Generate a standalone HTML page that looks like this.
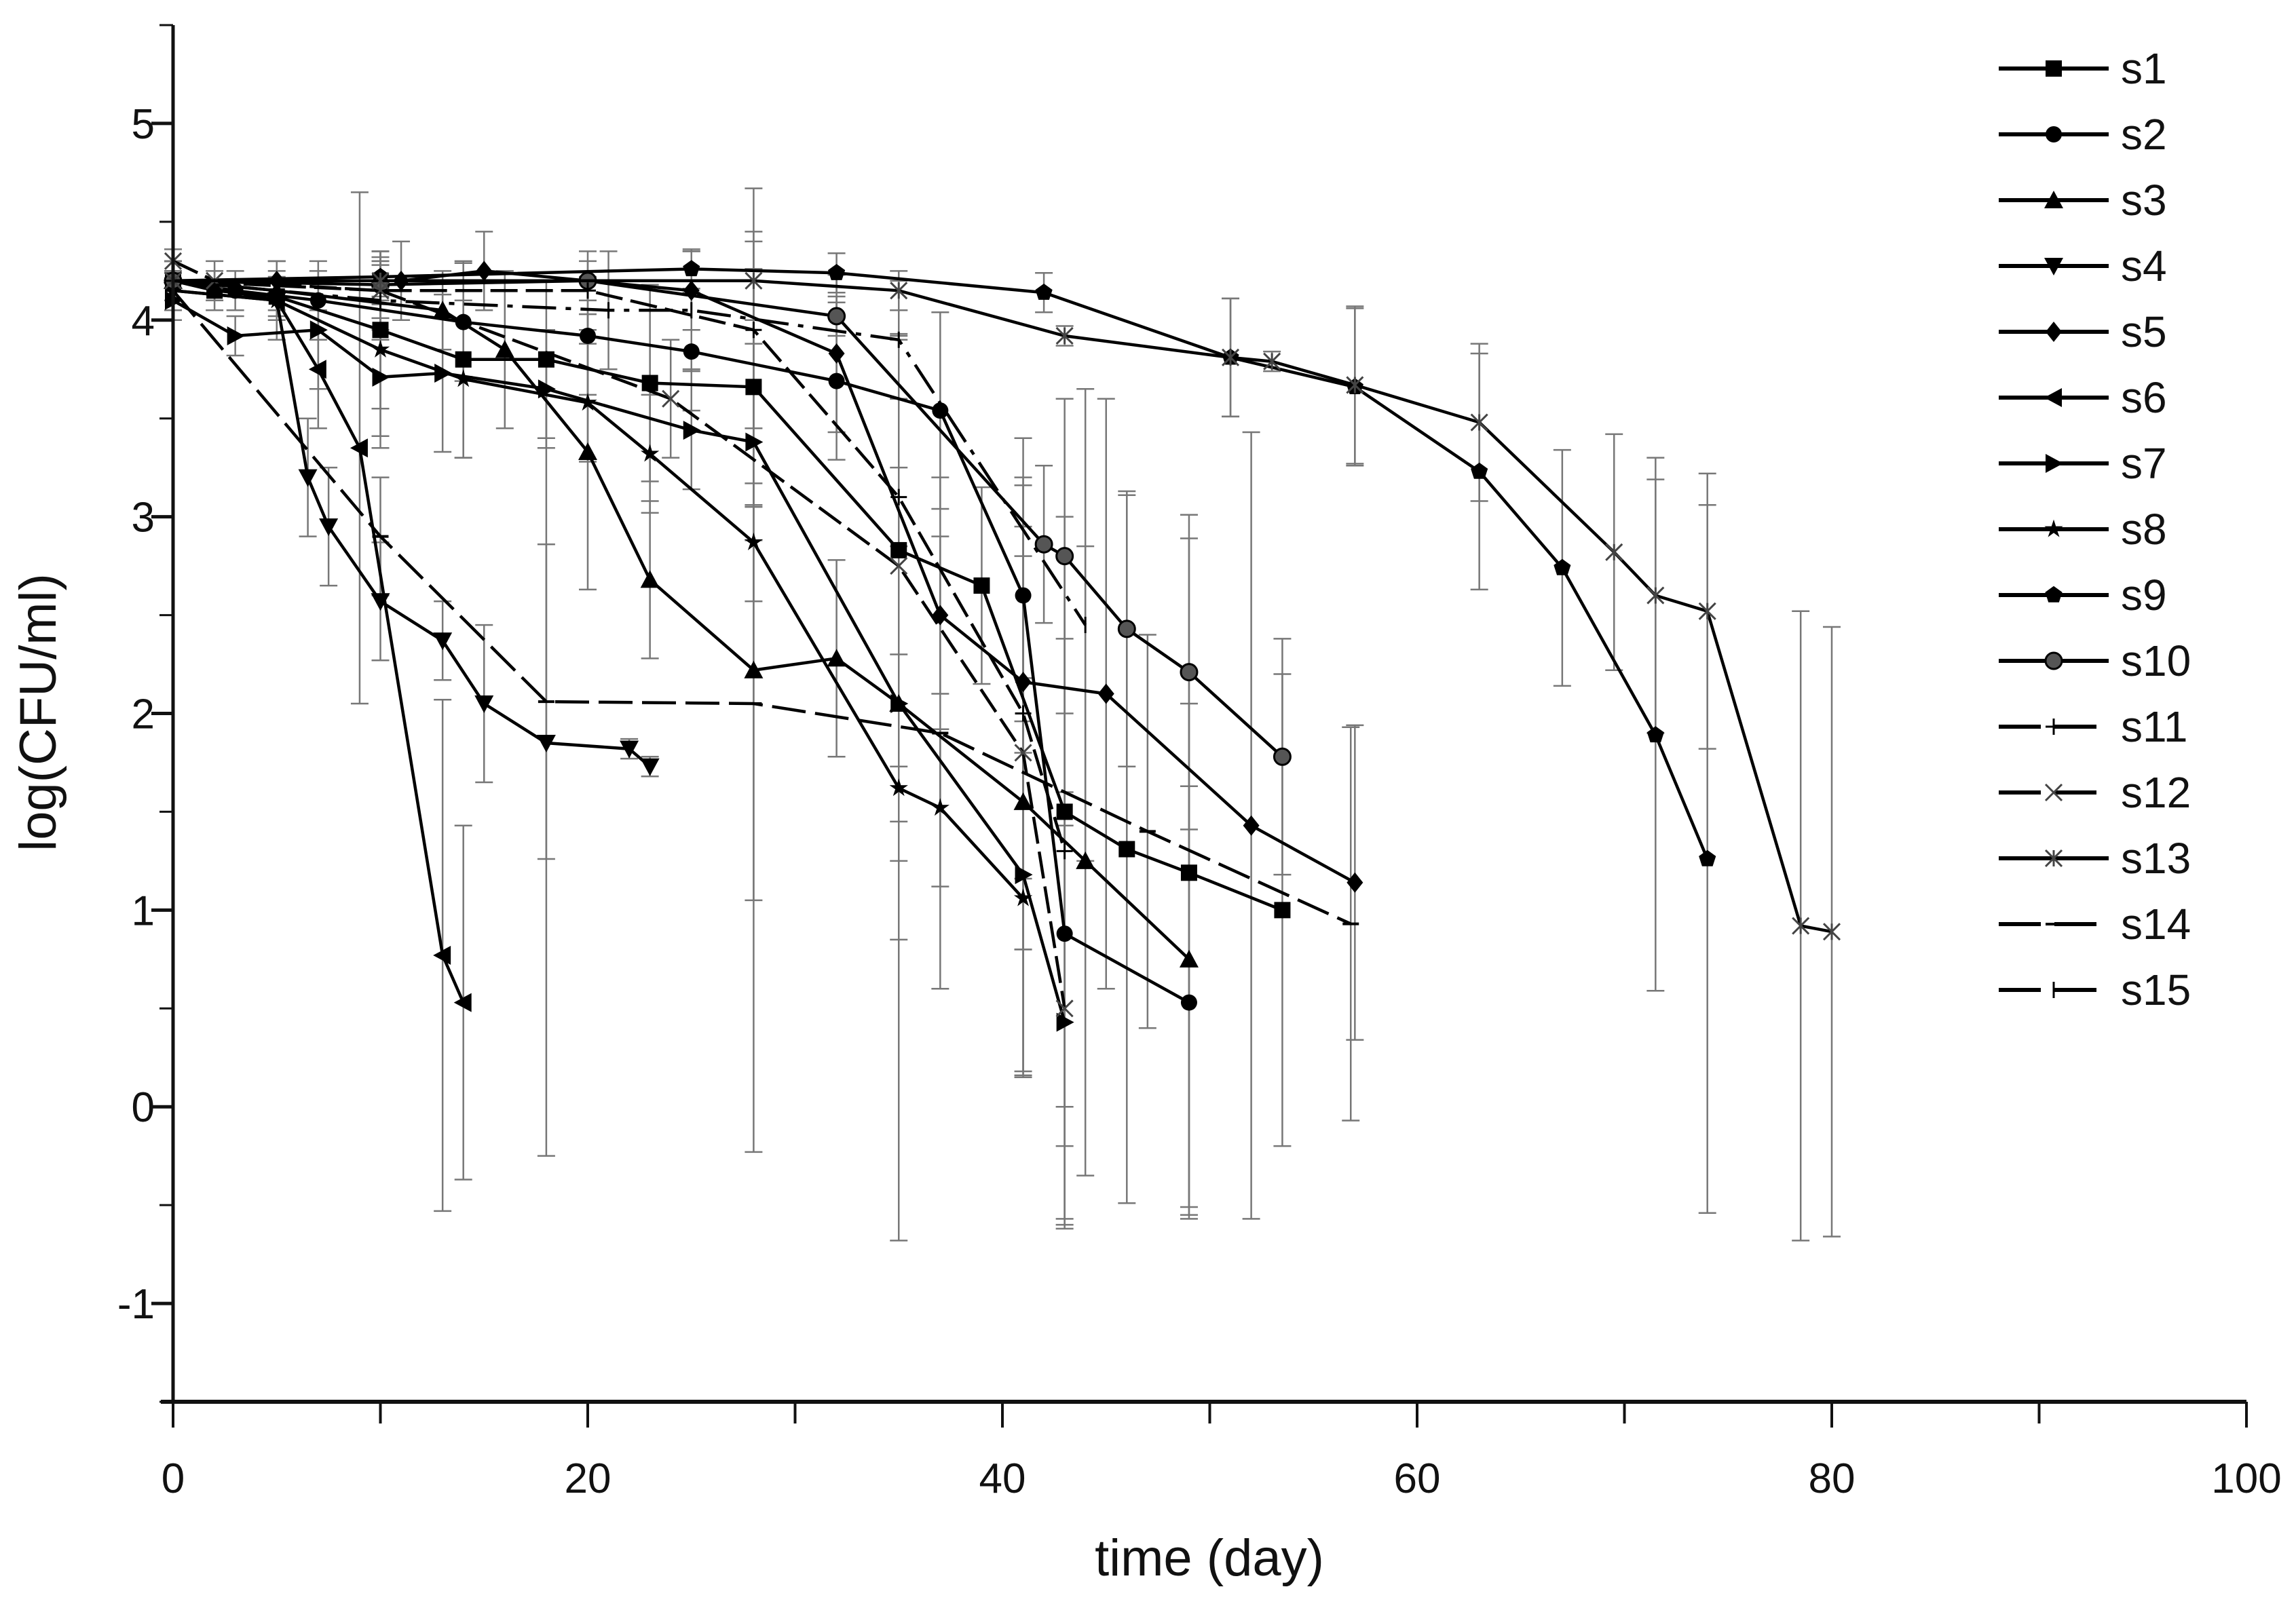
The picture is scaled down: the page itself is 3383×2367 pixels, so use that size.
<!DOCTYPE html>
<html><head><meta charset="utf-8"><style>html,body{margin:0;padding:0;background:#fff}svg{display:block}</style></head>
<body>
<svg id="chart" width="3383" height="2367" viewBox="0 0 3383 2367" xmlns="http://www.w3.org/2000/svg" font-family="Liberation Sans, sans-serif"></svg>
<script>
const xTicks=[0,20,40,60,80,100];
const yTicks=[-1,0,1,2,3,4,5];
const seriesNames=["s1","s2","s3","s4","s5","s6","s7","s8","s9","s10","s11","s12","s13","s14","s15"];
const s1x=[0,2,5,10,14,18,23,28,35,39,43,46,49,53.5];
const s1y=[4.2,4.15,4.12,3.95,3.8,3.8,3.68,3.66,2.83,2.65,1.5,1.31,1.19,1.0];
const s1e=[0.1,0.1,0.1,0.4,0.5,0.4,0.5,0.6,1.1,0.5,1.5,1.8,1.7,1.2];
const s2x=[0,3,7,14,20,25,32,37,41,43,49];
const s2y=[4.2,4.15,4.1,3.99,3.92,3.84,3.69,3.54,2.6,0.88,0.53];
const s2e=[0.1,0.1,0.2,0.3,0.3,0.3,0.4,0.5,0.8,1.5,1.1];
const s3x=[0,5,13,16,20,23,28,32,35,41,44,49];
const s3y=[4.2,4.15,4.05,3.85,3.33,2.68,2.22,2.28,2.05,1.55,1.25,0.75];
const s3e=[0.1,0.1,0.2,0.4,0.7,0.4,2.45,0.5,1.2,1.4,1.6,1.3];
const s4x=[0,5,6.5,7.5,10,13,15,18,22,23];
const s4y=[4.15,4.1,3.2,2.95,2.57,2.37,2.05,1.85,1.82,1.73];
const s4e=[0.1,0.1,0.3,0.3,0.3,0.2,0.4,2.1,0.05,0.05];
const s5x=[0,5,11,15,25,32,37,41,45,52,57];
const s5y=[4.2,4.2,4.2,4.25,4.15,3.83,2.5,2.16,2.1,1.43,1.14];
const s5e=[0.1,0.1,0.2,0.2,0.2,0.4,0.4,1.0,1.5,2.0,0.8];
const s6x=[0,5,7,9,13,14];
const s6y=[4.2,4.1,3.75,3.35,0.77,0.53];
const s6e=[0.1,0.2,0.3,1.3,1.3,0.9];
const s7x=[0,3,7,10,13,18,25,28,35,41,43];
const s7y=[4.1,3.92,3.95,3.71,3.73,3.65,3.44,3.38,2.05,1.18,0.43];
const s7e=[0.1,0.1,0.3,0.3,0.4,0.3,0.3,0.5,0.8,1.0,1.0];
const s8x=[0,5,10,14,20,23,28,35,37,41];
const s8y=[4.15,4.1,3.85,3.7,3.58,3.32,2.87,1.62,1.52,1.06];
const s8e=[0.1,0.2,0.5,0.4,0.3,0.3,0.3,2.3,0.4,0.9];
const s9x=[0,10,25,32,42,51,57,63,67,71.5,74];
const s9y=[4.2,4.22,4.26,4.24,4.14,3.81,3.66,3.23,2.74,1.89,1.26];
const s9e=[0.1,0.1,0.1,0.1,0.1,0.3,0.4,0.6,0.6,1.3,1.8];
const s10x=[0,10,20,32,42,43,46,49,53.5];
const s10y=[4.2,4.18,4.2,4.02,2.86,2.8,2.43,2.21,1.78];
const s10e=[0.1,0.1,0.1,0.1,0.4,0.8,0.7,0.8,0.6];
const s11x=[0,10,20,28,35,41,43];
const s11y=[4.2,4.15,4.15,3.95,3.1,2.0,1.3];
const s11e=[0.1,0.2,0.2,0.5,0.8,1.2,1.5];
const s12x=[0,2,10,24,35,41,43];
const s12y=[4.3,4.2,4.15,3.6,2.75,1.8,0.5];
const s12e=[0.06,0.1,0.2,0.3,1.3,1.0,1.1];
const s13x=[0,10,28,35,43,51,53,57,63,69.5,71.5,74,78.5,80];
const s13y=[4.2,4.2,4.2,4.15,3.92,3.81,3.79,3.67,3.48,2.82,2.6,2.52,0.92,0.89];
const s13e=[0.1,0.1,0.2,0.1,0.05,0.3,0.05,0.4,0.4,0.6,0.7,0.7,1.6,1.55];
const s14x=[0,10,18,28,37,47,56.8];
const s14y=[4.15,2.9,2.06,2.05,1.9,1.4,0.93];
const s14e=[0.1,0.3,0.8,1.0,1.3,1.0,1.0];
const s15x=[0,10,21,25,35,44];
const s15y=[4.2,4.1,4.05,4.05,3.9,2.45];
const s15e=[0.1,0.2,0.3,0.3,0.3,1.2];
const allX=[s1x,s2x,s3x,s4x,s5x,s6x,s7x,s8x,s9x,s10x,s11x,s12x,s13x,s14x,s15x];
const allY=[s1y,s2y,s3y,s4y,s5y,s6y,s7y,s8y,s9y,s10y,s11y,s12y,s13y,s14y,s15y];
const allE=[s1e,s2e,s3e,s4e,s5e,s6e,s7e,s8e,s9e,s10e,s11e,s12e,s13e,s14e,s15e];
const markers=["square","circle","up","down","diamond","left","right","star","pentagon","halfcircle","plus","x","asterisk","dash","vbar"];
const dashes=["none","none","none","none","none","none","none","none","none","none","40,12","40,12","none","50,14","50,14,8,14"];

const X0=255,X1=3310,YT=37,YB=2066;
function X(v){return X0+(v-0)/(100-0)*(X1-X0);}
function Y(v){return YB-(v-(-1.5))/(5.5-(-1.5))*(YB-YT);}
const svg=document.getElementById('chart');
const NS="http://www.w3.org/2000/svg";
function mk(tag,attrs,parent){const e=document.createElementNS(NS,tag);for(const k in attrs)e.setAttribute(k,attrs[k]);(parent||svg).appendChild(e);return e;}

function marker(g,type,cx,cy){
  const r=12;let e;
  switch(type){
    case "square":e=mk('rect',{x:cx-r,y:cy-r,width:2*r,height:2*r,fill:'#000'},g);break;
    case "circle":e=mk('circle',{cx:cx,cy:cy,r:r,fill:'#000'},g);break;
    case "up":e=mk('polygon',{points:`${cx},${cy-r-2} ${cx-r-2},${cy+r} ${cx+r+2},${cy+r}`,fill:'#000'},g);break;
    case "down":e=mk('polygon',{points:`${cx},${cy+r+2} ${cx-r-2},${cy-r} ${cx+r+2},${cy-r}`,fill:'#000'},g);break;
    case "diamond":e=mk('polygon',{points:`${cx},${cy-r-3} ${cx+r},${cy} ${cx},${cy+r+3} ${cx-r},${cy}`,fill:'#000'},g);break;
    case "left":e=mk('polygon',{points:`${cx-r-2},${cy} ${cx+r},${cy-r-2} ${cx+r},${cy+r+2}`,fill:'#000'},g);break;
    case "right":e=mk('polygon',{points:`${cx+r+2},${cy} ${cx-r},${cy-r-2} ${cx-r},${cy+r+2}`,fill:'#000'},g);break;
    case "star":{let p=[];for(let i=0;i<10;i++){const a=-Math.PI/2+i*Math.PI/5;const rr=i%2?r*0.45:r*1.2;p.push((cx+rr*Math.cos(a)).toFixed(1)+','+(cy+rr*Math.sin(a)).toFixed(1));}e=mk('polygon',{points:p.join(' '),fill:'#000'},g);break;}
    case "pentagon":{let p=[];for(let i=0;i<5;i++){const a=-Math.PI/2+i*2*Math.PI/5;p.push((cx+r*1.1*Math.cos(a)).toFixed(1)+','+(cy+r*1.1*Math.sin(a)).toFixed(1));}e=mk('polygon',{points:p.join(' '),fill:'#000'},g);break;}
    case "halfcircle":e=mk('circle',{cx:cx,cy:cy,r:r,fill:'#555',stroke:'#000','stroke-width':3},g);break;
    case "plus":e=mk('path',{d:`M${cx-r},${cy}H${cx+r}M${cx},${cy-r}V${cy+r}`,stroke:'#000','stroke-width':3},g);break;
    case "x":e=mk('path',{d:`M${cx-r},${cy-r}L${cx+r},${cy+r}M${cx-r},${cy+r}L${cx+r},${cy-r}`,stroke:'#444','stroke-width':3},g);break;
    case "asterisk":e=mk('path',{d:`M${cx-r},${cy-r}L${cx+r},${cy+r}M${cx-r},${cy+r}L${cx+r},${cy-r}M${cx},${cy-r}V${cy+r}`,stroke:'#444','stroke-width':3},g);break;
    case "dash":e=mk('path',{d:`M${cx-r},${cy}H${cx+r}`,stroke:'#000','stroke-width':4},g);break;
    default:e=mk('path',{d:`M${cx},${cy-r}V${cy+r}`,stroke:'#000','stroke-width':3},g);
  }
  return e;
}

const eg=mk('g',{});


for(let s=0;s<15;s++){
  for(let i=0;i<allX[s].length;i++){
    const cx=X(allX[s][i]),y1=Y(allY[s][i]+allE[s][i]),y2=Y(allY[s][i]-allE[s][i]);
    const p=mk('path',{d:`M${cx},${y1}V${y2}M${cx-13},${y1}H${cx+13}M${cx-13},${y2}H${cx+13}`,stroke:'#777','stroke-width':2.5,fill:'none'},eg);
    
    
  }
}
for(let s=0;s<15;s++){
  const g=mk('g',{});
  
  
  const pts=allX[s].map((v,i)=>X(v).toFixed(1)+','+Y(allY[s][i]).toFixed(1)).join(' ');
  const ln=mk('polyline',{points:pts,fill:'none',stroke:'#000','stroke-width':4.5,'stroke-dasharray':dashes[s]},g);
  
  
  for(let i=0;i<allX[s].length;i++){
    const m=marker(g,markers[s],X(allX[s][i]),Y(allY[s][i]));
    
    
  }
}
const ax=mk('g',{});


const yl=mk('line',{x1:X0,y1:YT,x2:X0,y2:YB+2,stroke:'#111','stroke-width':5},ax);


const xl=mk('line',{x1:X0-18,y1:YB,x2:X1,y2:YB,stroke:'#111','stroke-width':6},ax);


for(let v=0;v<=100;v+=10){
  const major=v%20===0;
  mk('line',{x1:X(v),y1:YB,x2:X(v),y2:YB+(major?38:32),stroke:'#111','stroke-width':4},ax);
}
xTicks.forEach(v=>{
  const t=mk('text',{x:X(v),y:2200,'text-anchor':'middle','font-size':62,fill:'#111'},ax);
  t.textContent=v;
  
  
});
for(let v=-1.5;v<=5.5;v+=0.5){
  const major=Math.abs(v-Math.round(v))<1e-6;
  mk('line',{x1:X0-(major?32:20),y1:Y(v),x2:X0,y2:Y(v),stroke:'#111','stroke-width':major?5:3},ax);
}
yTicks.forEach(v=>{
  const t=mk('text',{x:228,y:Y(v)+22,'text-anchor':'end','font-size':62,fill:'#111'},ax);
  t.textContent=v;
  
  
});
const xt=mk('text',{x:1782,y:2322,'text-anchor':'middle','font-size':76,fill:'#111'});
xt.textContent='time (day)';


const yt=mk('text',{x:0,y:0,'text-anchor':'middle','font-size':76,fill:'#111',transform:'translate(82,1050) rotate(-90)'});
yt.textContent='log(CFU/ml)';


const lg=mk('g',{});


for(let s=0;s<15;s++){
  const yy=101+97*s;
  const g=mk('g',{},lg);
  
  
  mk('line',{x1:2945,y1:yy,x2:3107,y2:yy,stroke:'#000','stroke-width':6,'stroke-dasharray':dashes[s]==='none'?'none':'62,20'},g);
  marker(g,markers[s],3026,yy);
  const t=mk('text',{x:3125,y:yy+22,'font-size':64,fill:'#111'},g);
  t.textContent=seriesNames[s];
}
</script>
</body></html>
